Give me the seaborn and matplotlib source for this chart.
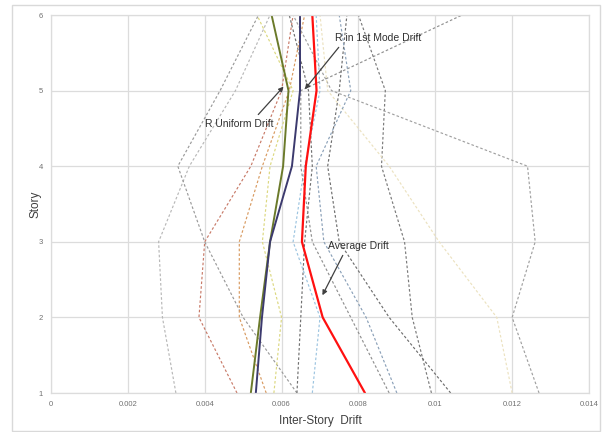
import numpy as np
import pandas as pd
import seaborn as sns
import matplotlib
matplotlib.use("Agg")
import matplotlib.pyplot as plt
from matplotlib.patches import Rectangle

stories = [1, 2, 3, 4, 5, 6]

# Individual record drifts (stories 1..6)
rec_01 = [0.00325, 0.0029, 0.0028, 0.0036, 0.0048, 0.0057]
rec_02 = [0.0064, 0.0050, 0.0040, 0.0033, 0.0044, 0.0054]
rec_03 = [0.00484, 0.00385, 0.0040, 0.0052, 0.0060, 0.0063]
rec_04 = [0.0056, 0.0049, 0.0049, 0.0055, 0.0062, 0.0066]
rec_05 = [0.0058, 0.0060, 0.0055, 0.0057, 0.0063, 0.00536]
rec_06 = [0.0064, 0.0065, 0.0066, 0.0068, 0.0067, 0.0062]
rec_07 = [0.0068, 0.0070, 0.0063, 0.0066, 0.0070, 0.0069]
rec_08 = [0.0088, 0.0078, 0.0068, 0.0065, 0.0065, 0.0107]
rec_09 = [0.0099, 0.0094, 0.0092, 0.0086, 0.0087, 0.0080]
rec_10 = [0.0127, 0.0120, 0.0126, 0.0124, 0.0073, 0.0063]
rec_11 = [0.0120, 0.0116, 0.0101, 0.0088, 0.0072, 0.0070]
rec_12 = [0.0104, 0.0088, 0.0075, 0.0072, 0.0075, 0.0077]
rec_13 = [0.0090, 0.0082, 0.0071, 0.0069, 0.0078, 0.0075]

records = [rec_01, rec_02, rec_03, rec_04, rec_05, rec_06, rec_07,
           rec_08, rec_09, rec_10, rec_11, rec_12, rec_13]
record_colors = ["#b8b8b8", "#9a9a9a", "#c87a68", "#d89a60", "#dcd880",
                 "#707070", "#9cc4e0", "#909090", "#7a7a7a", "#a0a0a0",
                 "#ece2c0", "#6e6e6e", "#8aa0b8"]

average_drift = [0.00817, 0.00707, 0.00653, 0.00663, 0.00691, 0.0068]
r_first_mode = [0.00533, 0.00549, 0.0057, 0.00627, 0.00648, 0.00648]
r_uniform = [0.0052, 0.00544, 0.0057, 0.00604, 0.00618, 0.00574]

x_ticks = [0, 0.002, 0.004, 0.006, 0.008, 0.01, 0.012, 0.014]
x_tick_labels = ["0", "0.002", "0.004", "0.006", "0.008", "0.01", "0.012", "0.014"]
y_ticks = [1, 2, 3, 4, 5, 6]

sns.set_theme(style="white")
plt.rcParams['font.family'] = ['Liberation Sans', 'DejaVu Sans']

fig = plt.figure(figsize=(6.02, 4.32), dpi=100)
ax = fig.add_axes([51/602, 1-393/432, (589-51)/602, (393-15)/432])

# outer border
fig.patches.append(Rectangle((12/602, 0.002), (600-12)/602, 1-5/432-0.002,
                             transform=fig.transFigure, fill=False,
                             edgecolor="#d9d9d9", linewidth=1.0))

for vals, col in zip(records, record_colors):
    df = pd.DataFrame({"drift": vals, "story": stories})
    sns.lineplot(data=df, x="drift", y="story", sort=False, estimator=None,
                 ax=ax, color=col, linewidth=0.85)
    ax.lines[-1].set_dashes((2.2, 1.8))

for vals, col, lw in [(r_uniform, "#6b7a2a", 1.4),
                      (r_first_mode, "#3c3a6e", 1.4),
                      (average_drift, "#ff1010", 1.6)]:
    df = pd.DataFrame({"drift": vals, "story": stories})
    sns.lineplot(data=df, x="drift", y="story", sort=False, estimator=None,
                 ax=ax, color=col, linewidth=lw)

ax.set_xlim(0, 0.014)
ax.set_ylim(1, 6)
ax.set_xticks(x_ticks)
ax.set_xticklabels(x_tick_labels)
ax.set_yticks(y_ticks)
ax.tick_params(axis="both", labelsize=5.5, labelcolor="#707070", length=0, pad=6)
ax.grid(True, color="#dcdcdc", linewidth=0.9)
for s in ax.spines.values():
    s.set_color("#dcdcdc")
    s.set_linewidth(0.9)

ax.set_xlabel("Inter-Story  Drift", fontsize=8.5, color="#404040", labelpad=5)
ax.set_ylabel("Story", fontsize=8.5, color="#404040", labelpad=-2)

def arrow(rp):
    return dict(arrowstyle="-|>", color="#404040", lw=0.9, mutation_scale=7,
                relpos=rp, shrinkA=1)

ax.annotate("R in 1st Mode Drift", xy=(0.00656, 4.99), xytext=(0.0074, 5.63),
            fontsize=7.5, color="#303030", ha="left", va="bottom",
            arrowprops=arrow((0.08, 0.0)))
ax.annotate("R Uniform Drift", xy=(0.00610, 5.08), xytext=(0.0049, 4.56),
            fontsize=7.5, color="#303030", ha="center", va="center",
            arrowprops=arrow((0.72, 1.0)))
ax.annotate("Average Drift", xy=(0.00703, 2.26), xytext=(0.0080, 2.88),
            fontsize=7.5, color="#303030", ha="center", va="bottom",
            arrowprops=arrow((0.28, 0.0)))

fig.savefig("out.png", dpi=100)
